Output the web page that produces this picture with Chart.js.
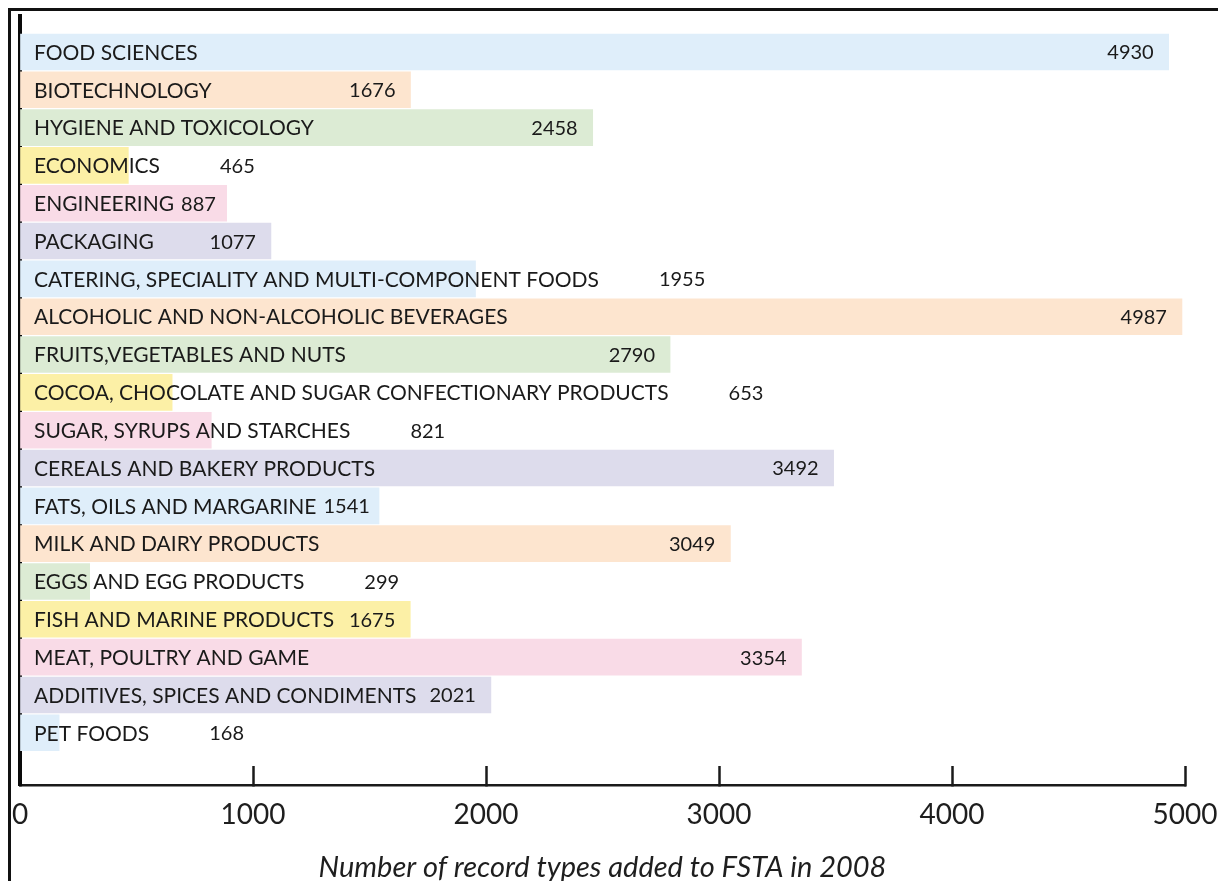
<!DOCTYPE html>
<html>
<head>
<meta charset="utf-8">
<title>FSTA 2008</title>
<script src="https://cdn.jsdelivr.net/npm/chart.js@4.4.1/dist/chart.umd.min.js"></script>
<style>
  body { margin: 0; background: #fff; }
  #wrap { position: relative; width: 1218px; height: 881px; overflow: hidden; }
  #frame { position: absolute; left: 8px; top: 8px; right: -10px; bottom: -10px;
           border-left: 3px solid #111; border-top: 3px solid #111; }
  #chart { position: absolute; left: 0; top: 0; }
</style>
</head>
<body>
<div id="wrap">
  <div id="frame"></div>
  <canvas id="chart" width="1218" height="881"></canvas>
</div>
<script>
const categories = [
  'FOOD SCIENCES',
  'BIOTECHNOLOGY',
  'HYGIENE AND TOXICOLOGY',
  'ECONOMICS',
  'ENGINEERING',
  'PACKAGING',
  'CATERING, SPECIALITY AND MULTI-COMPONENT FOODS',
  'ALCOHOLIC AND NON-ALCOHOLIC BEVERAGES',
  'FRUITS,VEGETABLES AND NUTS',
  'COCOA, CHOCOLATE AND SUGAR CONFECTIONARY PRODUCTS',
  'SUGAR, SYRUPS AND STARCHES',
  'CEREALS AND BAKERY PRODUCTS',
  'FATS, OILS AND MARGARINE',
  'MILK AND DAIRY PRODUCTS',
  'EGGS AND EGG PRODUCTS',
  'FISH AND MARINE PRODUCTS',
  'MEAT, POULTRY AND GAME',
  'ADDITIVES, SPICES AND CONDIMENTS',
  'PET FOODS'
];
const records = [4930, 1676, 2458, 465, 887, 1077, 1955, 4987, 2790, 653, 821, 3492, 1541, 3049, 299, 1675, 3354, 2021, 168];
const xTicks = [0, 1000, 2000, 3000, 4000, 5000];
const axisTitle = 'Number of record types added to FSTA in 2008';

// pastel colours repeat every six bars
const palette = ['#dfeefa', '#fde5cf', '#dcebd4', '#fcf0a6', '#f9dbe7', '#dddcec'];

const labelFont = '21px Lato';
const valueFont = '20px Lato';

// category names inside the bars, values near the bar end or after the name
const barLabels = {
  id: 'barLabels',
  afterDatasetsDraw(chart) {
    const ctx = chart.ctx;
    const bars = chart.getDatasetMeta(0).data;
    const left = chart.chartArea.left;
    ctx.save();
    ctx.fillStyle = '#1a1a1a';
    ctx.textBaseline = 'middle';
    bars.forEach((bar, i) => {
      const y = bar.y + 1;
      ctx.font = labelFont;
      ctx.textAlign = 'left';
      const lx = left + 14;
      ctx.fillText(categories[i], lx, y);
      const labelEnd = lx + ctx.measureText(categories[i]).width;

      const txt = String(records[i]);
      ctx.font = valueFont;
      const w = ctx.measureText(txt).width;
      let vx;
      if (bar.x > labelEnd) {
        vx = Math.max(labelEnd + 7, bar.x - 15 - w);
      } else {
        vx = labelEnd + 60;
      }
      ctx.fillText(txt, vx, y);
    });
    ctx.restore();
  }
};

new Chart(document.getElementById('chart'), {
  type: 'bar',
  data: {
    datasets: [{
      data: records.map((v, i) => ({ x: v, y: i })),
      backgroundColor: records.map((v, i) => palette[i % palette.length]),
      borderWidth: 0,
      barPercentage: 1,
      categoryPercentage: 1
    }]
  },
  options: {
    indexAxis: 'y',
    responsive: false,
    animation: false,
    layout: { padding: { left: 20, top: 16, right: 33, bottom: 0 } },
    plugins: {
      legend: { display: false },
      tooltip: { enabled: false }
    },
    scales: {
      x: {
        type: 'linear',
        min: xTicks[0],
        max: xTicks[xTicks.length - 1],
        afterBuildTicks: (scale) => { scale.ticks = xTicks.map(v => ({ value: v })); },
        afterFit: (scale) => {
          scale.height = 96;
          scale.paddingLeft = 0;
          scale.paddingRight = 0;
        },
        border: { display: true, color: '#1a1a1a', width: 2.5 },
        grid: {
          display: true,
          drawOnChartArea: false,
          drawTicks: true,
          tickLength: -19,
          tickColor: '#1a1a1a',
          tickWidth: 2.5
        },
        ticks: {
          padding: 32,
          color: '#1e1e1e',
          font: { family: 'Lato', size: 28 },
          maxRotation: 0,
          autoSkip: false,
          callback: (v) => String(v)
        },
        title: {
          display: true,
          text: axisTitle,
          color: '#1e1e1e',
          font: { family: 'Lato', size: 29, style: 'italic', lineHeight: 0.9 },
          padding: { top: 0, bottom: 0 }
        }
      },
      y: {
        type: 'linear',
        reverse: true,
        offset: false,
        min: -0.95,
        max: 19.38,
        afterFit: (scale) => { scale.width = 0; },
        border: { display: true, color: '#0a0a0a', width: 4 },
        grid: { display: false, offset: false },
        ticks: { display: false }
      }
    }
  },
  plugins: [barLabels]
});
</script>
</body>
</html>
